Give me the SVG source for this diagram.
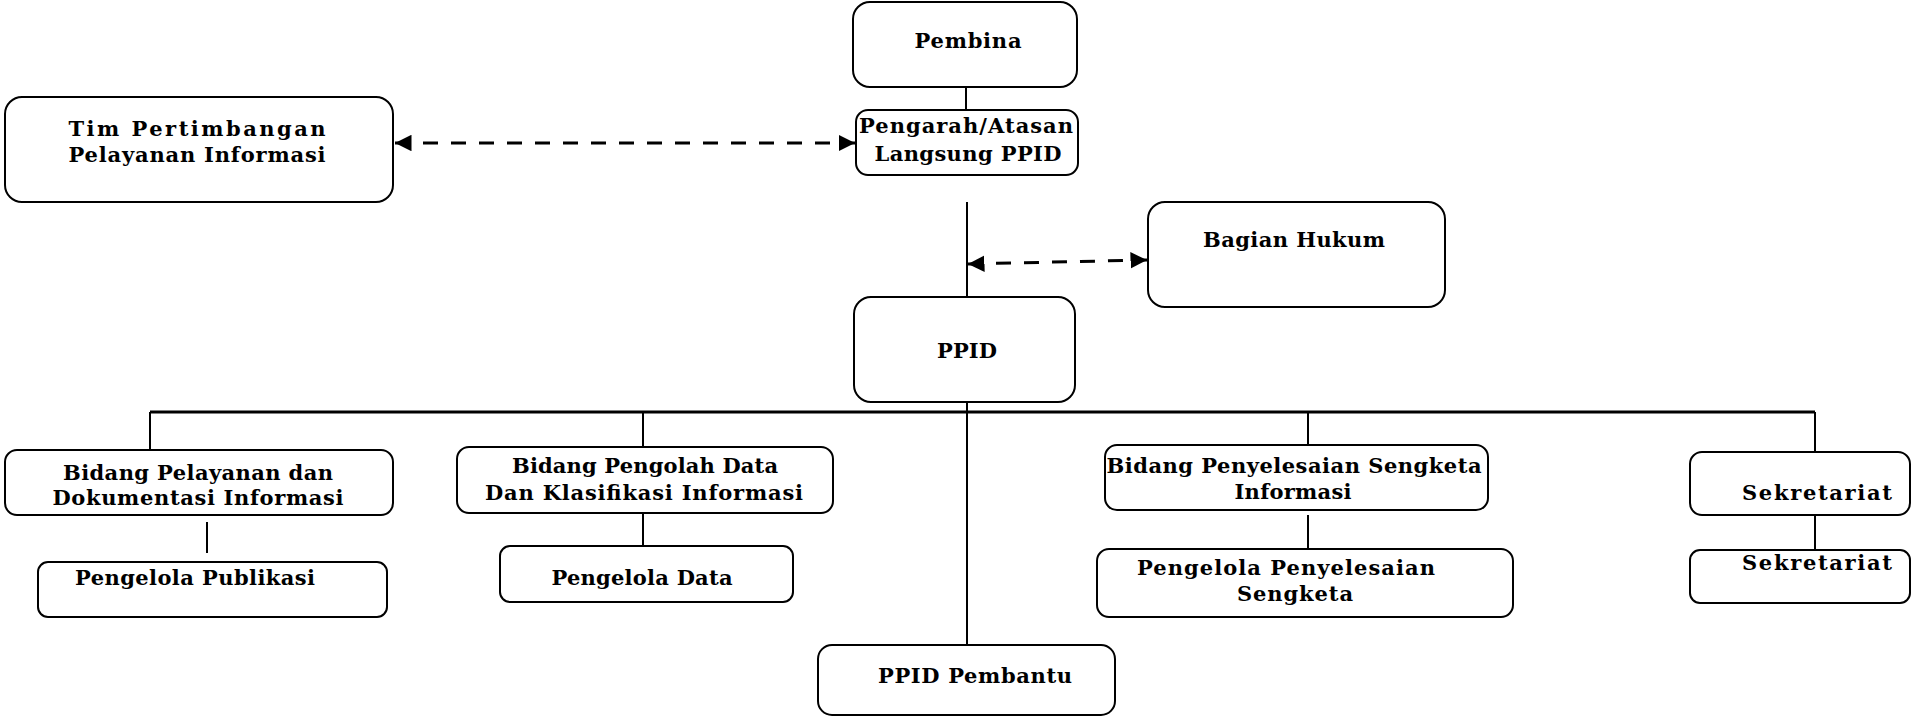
<svg xmlns="http://www.w3.org/2000/svg" width="1911" height="716" viewBox="0 0 1911 716">
<style>
.box{fill:#fff;stroke:#000;stroke-width:2}
.t{font-family:"DejaVu Serif","Liberation Serif",serif;font-weight:bold;font-size:21px;fill:#000;text-anchor:middle}
.ln{stroke:#000;stroke-width:2;fill:none}
.bus{stroke:#000;stroke-width:3;fill:none}
.dash{stroke:#000;stroke-width:3;stroke-dasharray:15 13;fill:none}
</style>
<defs>
<marker id="ah" viewBox="0 0 10 10" refX="10" refY="5" markerWidth="5.5" markerHeight="5.5" orient="auto-start-reverse" markerUnits="strokeWidth">
<path d="M0,0 L10,5 L0,10 Z" fill="#000"/>
</marker>
</defs>
<rect width="1911" height="716" fill="#fff"/>
<g id="connectors">
<line class="ln" x1="966" y1="87" x2="966" y2="110"/>
<line class="ln" x1="967" y1="202" x2="967" y2="297"/>
<line class="ln" x1="967" y1="397" x2="967" y2="648"/>
<line class="bus" x1="150" y1="412" x2="1815" y2="412"/>
<line class="ln" x1="150" y1="412" x2="150" y2="450"/>
<line class="ln" x1="643" y1="412" x2="643" y2="447"/>
<line class="ln" x1="1308" y1="412" x2="1308" y2="445"/>
<line class="ln" x1="1815" y1="412" x2="1815" y2="452"/>
<line class="ln" x1="207" y1="522" x2="207" y2="553"/>
<line class="ln" x1="643" y1="513" x2="643" y2="547"/>
<line class="ln" x1="1308" y1="515" x2="1308" y2="549"/>
<line class="ln" x1="1815" y1="515" x2="1815" y2="551"/>
<line class="dash" x1="395" y1="143" x2="855" y2="143" marker-start="url(#ah)" marker-end="url(#ah)"/>
<line class="dash" x1="968" y1="264" x2="1147" y2="260" marker-start="url(#ah)" marker-end="url(#ah)"/>
</g>
<g id="pembina">
<rect class="box" x="853" y="2" width="224" height="85" rx="17"/>
<text class="t" x="968" y="48" textLength="107" lengthAdjust="spacing">Pembina</text>
</g>
<g id="pengarah">
<rect class="box" x="856" y="110" width="222" height="65" rx="12"/>
<text class="t" x="966" y="133" textLength="214" lengthAdjust="spacing">Pengarah/Atasan</text>
<text class="t" x="968" y="161" textLength="187" lengthAdjust="spacing">Langsung PPID</text>
</g>
<g id="tim">
<rect class="box" x="5" y="97" width="388" height="105" rx="17"/>
<text class="t" x="197" y="136" textLength="257" lengthAdjust="spacing">Tim Pertimbangan</text>
<text class="t" x="197" y="162" textLength="257" lengthAdjust="spacing">Pelayanan Informasi</text>
</g>
<g id="hukum">
<rect class="box" x="1148" y="202" width="297" height="105" rx="17"/>
<text class="t" x="1294" y="247" textLength="182" lengthAdjust="spacing">Bagian Hukum</text>
</g>
<g id="ppid">
<rect class="box" x="854" y="297" width="221" height="105" rx="17"/>
<text class="t" x="967" y="358" textLength="60" lengthAdjust="spacing">PPID</text>
</g>
<g id="bidang-pelayanan">
<rect class="box" x="5" y="450" width="388" height="65" rx="12"/>
<text class="t" x="198" y="480" textLength="270" lengthAdjust="spacing">Bidang Pelayanan dan</text>
<text class="t" x="198" y="505" textLength="291" lengthAdjust="spacing">Dokumentasi Informasi</text>
</g>
<g id="pengelola-publikasi">
<rect class="box" x="38" y="562" width="349" height="55" rx="10"/>
<text class="t" x="195" y="585" textLength="240" lengthAdjust="spacing">Pengelola Publikasi</text>
</g>
<g id="bidang-pengolah">
<rect class="box" x="457" y="447" width="376" height="66" rx="12"/>
<text class="t" x="645" y="473" textLength="266" lengthAdjust="spacing">Bidang Pengolah Data</text>
<text class="t" x="644" y="500" textLength="318" lengthAdjust="spacing">Dan Klasifikasi Informasi</text>
</g>
<g id="bidang-penyelesaian">
<rect class="box" x="1105" y="445" width="383" height="65" rx="12"/>
<text class="t" x="1294" y="473" textLength="375" lengthAdjust="spacing">Bidang Penyelesaian Sengketa</text>
<text class="t" x="1293" y="499" textLength="117" lengthAdjust="spacing">Informasi</text>
</g>
<g id="pengelola-data">
<rect class="box" x="500" y="546" width="293" height="56" rx="10"/>
<text class="t" x="642" y="585" textLength="181" lengthAdjust="spacing">Pengelola Data</text>
</g>
<g id="pengelola-penyelesaian">
<rect class="box" x="1097" y="549" width="416" height="68" rx="12"/>
<text class="t" x="1286" y="575" textLength="298" lengthAdjust="spacing">Pengelola Penyelesaian</text>
<text class="t" x="1295" y="601" textLength="116" lengthAdjust="spacing">Sengketa</text>
</g>
<g id="sekretariat">
<rect class="box" x="1690" y="452" width="220" height="63" rx="12"/>
<text class="t" x="1817" y="500" textLength="150" lengthAdjust="spacing">Sekretariat</text>
</g>
<g id="sekretariat-2">
<rect class="box" x="1690" y="550" width="220" height="53" rx="10"/>
<text class="t" x="1817" y="570" textLength="150" lengthAdjust="spacing">Sekretariat</text>
</g>
<g id="ppid-pembantu">
<rect class="box" x="818" y="645" width="297" height="70" rx="14"/>
<text class="t" x="975" y="683" textLength="194" lengthAdjust="spacing">PPID Pembantu</text>
</g>
</svg>
